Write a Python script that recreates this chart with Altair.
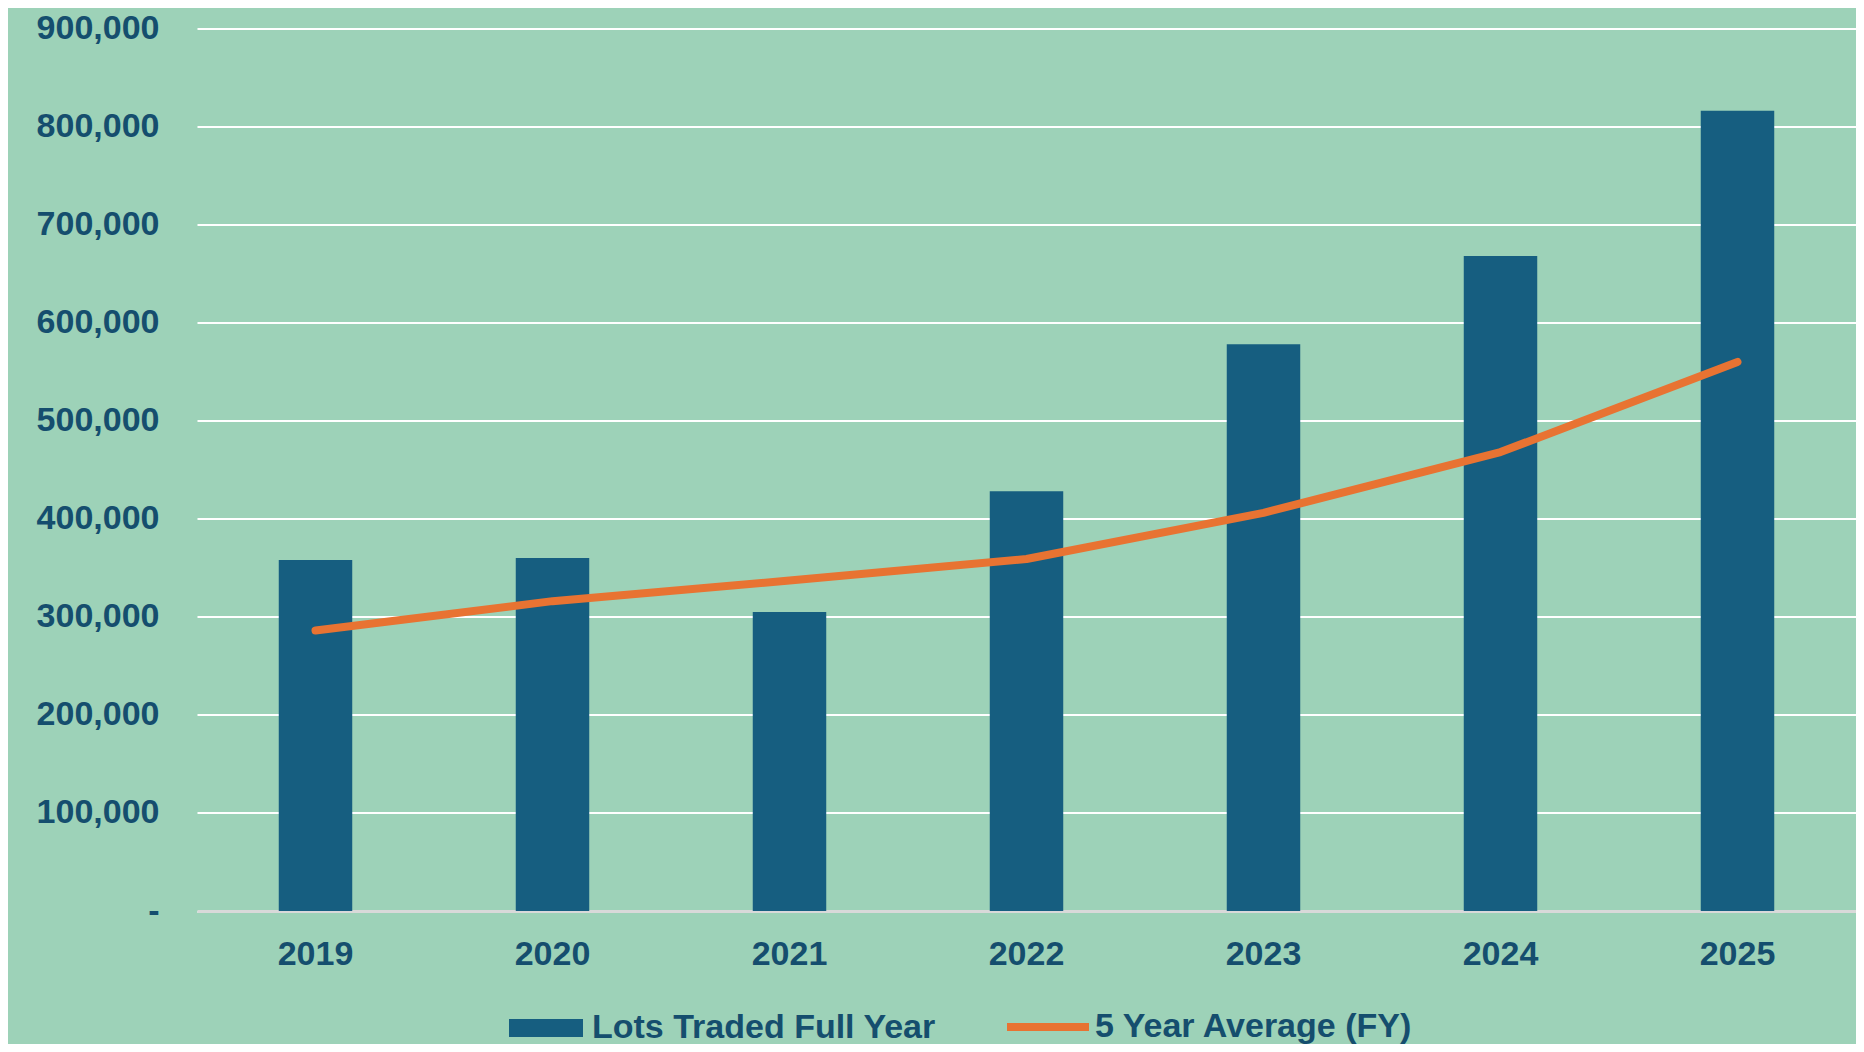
import altair as alt
import pandas as pd

years = ["2019", "2020", "2021", "2022", "2023", "2024", "2025"]
lots_traded = [358000, 360000, 305000, 428000, 578000, 668000, 816000]
five_year_avg = [286000, 316000, 337000, 359000, 406000, 468000, 560000]
y_ticks = [0, 100000, 200000, 300000, 400000, 500000, 600000, 700000, 800000, 900000]

BAR_NAME = "Lots Traded Full Year"
LINE_NAME = "5 Year Average (FY)"

BG = "#9dd2b8"
BAR = "#165e80"
ORANGE = "#e87332"
TEXT = "#154e6e"
FONT = "Liberation Sans"

bars_df = pd.DataFrame({"year": years, "value": lots_traded, "series": BAR_NAME})
line_df = pd.DataFrame({"year": years, "value": five_year_avg, "series": LINE_NAME})

x_enc = alt.X(
    "year:N",
    sort=years,
    scale=alt.Scale(paddingInner=0.69, paddingOuter=0.345),
    axis=alt.Axis(
        title=None, labelAngle=0, ticks=False, grid=False,
        domainColor="#d9d9d9", domainWidth=3, labelPadding=26,
        labelFont=FONT, labelFontSize=34, labelFontWeight="bold", labelColor=TEXT,
    ),
)

y_enc = alt.Y(
    "value:Q",
    scale=alt.Scale(domain=[0, 900000], nice=False),
    axis=alt.Axis(
        title=None, values=y_ticks, domain=False, ticks=False,
        labelExpr="datum.value == 0 ? '-\u00a0\u00a0' : format(datum.value, ',')",
        labelPadding=38, gridColor="white", gridWidth=2,
        labelFont=FONT, labelFontSize=34, labelFontWeight="bold", labelColor=TEXT,
    ),
)

legend_common = dict(
    orient="none", direction="horizontal", title=None, padding=0,
    labelFont=FONT, labelFontSize=34, labelFontWeight="bold", labelColor=TEXT,
    labelLimit=800,
)

bars = alt.Chart(bars_df).mark_bar().encode(
    x=x_enc,
    y=y_enc,
    color=alt.Color(
        "series:N",
        scale=alt.Scale(domain=[BAR_NAME], range=[BAR]),
        legend=alt.Legend(
            legendX=312, legendY=962.5,
            symbolType="M-1,-0.243H1V0.243H-1Z", symbolSize=5476,
            symbolStrokeWidth=0, labelOffset=9, **legend_common,
        ),
    ),
)

line = alt.Chart(line_df).mark_line(strokeWidth=8, strokeCap="round", strokeJoin="round").encode(
    x=alt.X("year:N", sort=years),
    y=alt.Y("value:Q"),
    color=alt.Color(
        "series:N",
        scale=alt.Scale(domain=[LINE_NAME], range=[ORANGE]),
        legend=alt.Legend(
            legendX=806, legendY=953.5,
            symbolType="stroke", symbolSize=6724, symbolStrokeWidth=8,
            labelOffset=2, **legend_common,
        ),
    ),
)

chart = (
    alt.layer(bars, line)
    .resolve_scale(color="independent")
    .properties(
        width=1659,
        height=882.5,
        padding={"left": 189, "top": 20.5, "right": 0, "bottom": 133},
        autosize=alt.AutoSizeParams(type="none"),
        background=BG,
    )
    .configure_view(stroke=None)
)

chart.save("out.html", embed_options={"renderer": "svg", "actions": False})
